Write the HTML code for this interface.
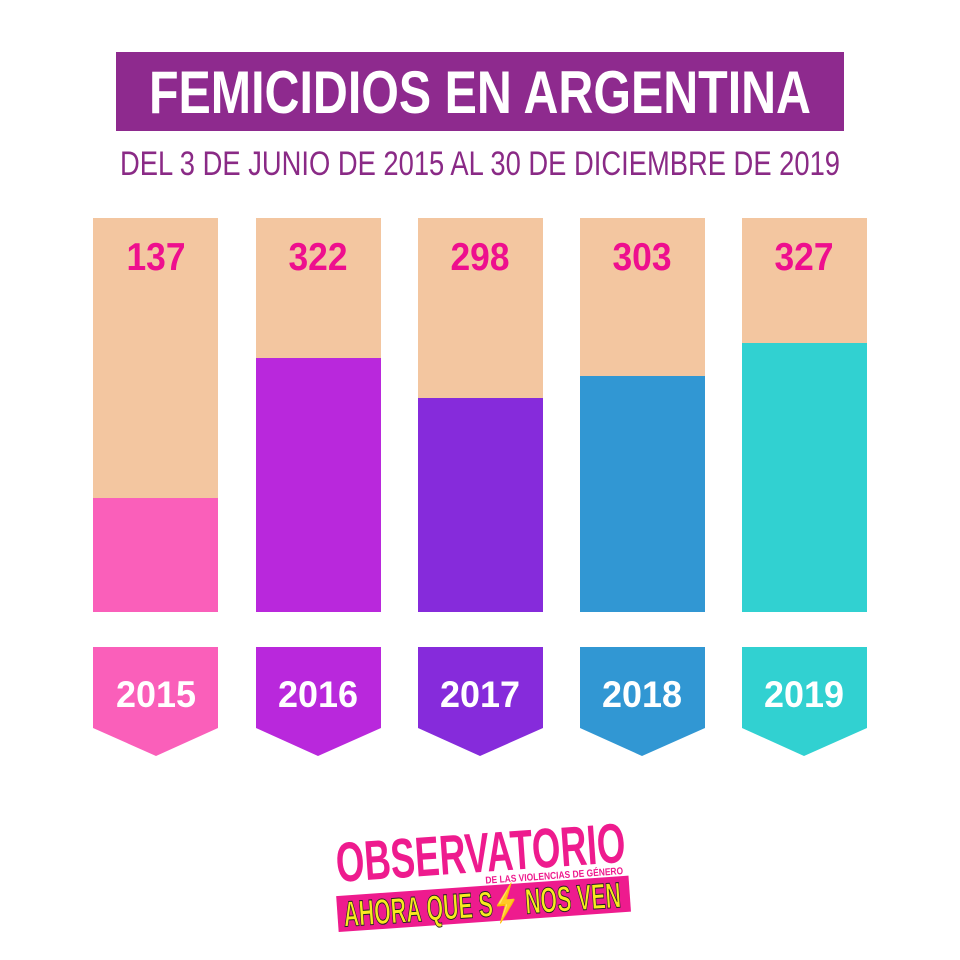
<!DOCTYPE html>
<html><head><style>body{margin:0;background:#fff}svg{display:block}</style></head><body>
<svg width="960" height="960" xmlns="http://www.w3.org/2000/svg" font-family="Liberation Sans, sans-serif" font-weight="bold">
<rect width="960" height="960" fill="#fff"/>
<rect x="116" y="52" width="728" height="79" fill="#8e2a8e"/>
<text x="480" y="113" text-anchor="middle" fill="#fff" font-size="60" textLength="662" lengthAdjust="spacingAndGlyphs">FEMICIDIOS EN ARGENTINA</text>
<text x="480" y="175" text-anchor="middle" fill="#8a2a86" font-size="34" font-weight="normal" textLength="720" lengthAdjust="spacingAndGlyphs">DEL 3 DE JUNIO DE 2015 AL 30 DE DICIEMBRE DE 2019</text>
<g>
<rect x="93" y="218" width="125" height="394" fill="#f3c6a0"/><rect x="93" y="498" width="125" height="114" fill="#fa5fba"/>
<rect x="256" y="218" width="125" height="394" fill="#f3c6a0"/><rect x="256" y="358" width="125" height="254" fill="#b928dc"/>
<rect x="418" y="218" width="125" height="394" fill="#f3c6a0"/><rect x="418" y="398" width="125" height="214" fill="#862bdb"/>
<rect x="580" y="218" width="125" height="394" fill="#f3c6a0"/><rect x="580" y="376" width="125" height="236" fill="#3197d3"/>
<rect x="742" y="218" width="125" height="394" fill="#f3c6a0"/><rect x="742" y="343" width="125" height="269" fill="#31d1d1"/>
</g>
<g fill="#ee0f8e" font-size="39" text-anchor="middle">
<text x="156" y="270" textLength="59" lengthAdjust="spacingAndGlyphs">137</text>
<text x="318" y="270" textLength="59" lengthAdjust="spacingAndGlyphs">322</text>
<text x="480" y="270" textLength="59" lengthAdjust="spacingAndGlyphs">298</text>
<text x="642" y="270" textLength="59" lengthAdjust="spacingAndGlyphs">303</text>
<text x="804" y="270" textLength="59" lengthAdjust="spacingAndGlyphs">327</text>
</g>
<polygon points="93,647 218,647 218,728 156,756 93,728" fill="#fa5fba"/>
<polygon points="256,647 381,647 381,728 318,756 256,728" fill="#b928dc"/>
<polygon points="418,647 543,647 543,728 480,756 418,728" fill="#862bdb"/>
<polygon points="580,647 705,647 705,728 642,756 580,728" fill="#3197d3"/>
<polygon points="742,647 867,647 867,728 804,756 742,728" fill="#31d1d1"/>
<g fill="#fff" font-size="37" text-anchor="middle">
<text x="156" y="707" textLength="80" lengthAdjust="spacingAndGlyphs">2015</text>
<text x="318" y="707" textLength="80" lengthAdjust="spacingAndGlyphs">2016</text>
<text x="480" y="707" textLength="80" lengthAdjust="spacingAndGlyphs">2017</text>
<text x="642" y="707" textLength="80" lengthAdjust="spacingAndGlyphs">2018</text>
<text x="804" y="707" textLength="80" lengthAdjust="spacingAndGlyphs">2019</text>
</g>
<g transform="rotate(-4 480 860)">
<text x="336" y="872" fill="#ee1b8e" font-size="56" textLength="290" lengthAdjust="spacingAndGlyphs">OBSERVATORIO</text>
<text x="484" y="884" fill="#ee1b8e" font-size="10" textLength="138" lengthAdjust="spacingAndGlyphs">DE LAS VIOLENCIAS DE GÉNERO</text>
<rect x="334" y="886" width="293" height="36" fill="#ee1b8e"/>
<text x="340" y="917" fill="#f7ea1e" stroke="#222" stroke-width="1" font-size="36" textLength="278" lengthAdjust="spacingAndGlyphs">AHORA QUE S⚡ NOS VEN</text>
</g>
</svg>
</body></html>
